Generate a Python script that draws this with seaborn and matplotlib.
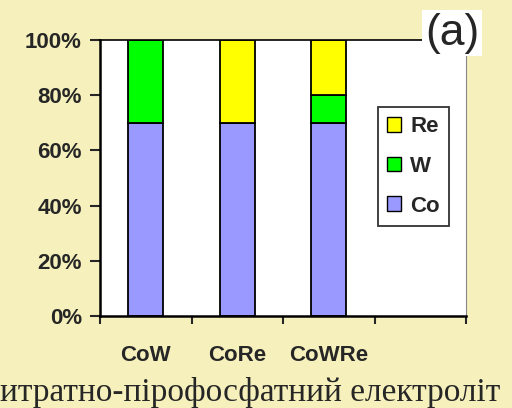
import pandas as pd
import seaborn as sns
import matplotlib.pyplot as plt
from matplotlib.patches import Patch

samples = ["CoW", "CoRe", "CoWRe"]
co = [70, 70, 70]
w = [30, 0, 10]
re = [0, 30, 20]
y_ticks = [0, 20, 40, 60, 80, 100]

colors = {"Co": "#9999FF", "W": "#00FF00", "Re": "#FFFF00"}

df = pd.DataFrame({"sample": samples, "Co": co, "W": w, "Re": re})

sns.set_style("white")
plt.rcParams["font.family"] = ["Liberation Sans", "DejaVu Sans"]

bg = "#F6F1BC"
fig = plt.figure(figsize=(5.12, 4.08), dpi=100, facecolor=bg)
ax = fig.add_axes([100 / 512, 92 / 408, 366 / 512, 276 / 408])
ax.set_facecolor("white")

bottom = [0, 0, 0]
for comp in ["Co", "W", "Re"]:
    sns.barplot(x=df["sample"], y=df[comp], bottom=bottom, color=colors[comp],
                width=0.38, edgecolor="black", linewidth=1.3, ax=ax,
                saturation=1)
    bottom = [b + v for b, v in zip(bottom, df[comp])]

ax.set_xlim(-0.5, 3.5)
ax.set_ylim(0, 100)
ax.set_yticks(y_ticks)
ax.set_yticklabels([f"{t}%" for t in y_ticks], fontsize=16, fontweight="bold")
ax.tick_params(axis="y", direction="out", length=7, width=1.5, left=True, pad=6)

# category labels sit in the middle, tick marks at the boundaries
ax.set_xticks([-0.5, 0.5, 1.5, 2.5, 3.5])
ax.set_xticklabels([])
ax.tick_params(axis="x", which="major", direction="out", length=6, width=1.5, bottom=True)
ax.set_xticks([0, 1, 2], minor=True)
ax.set_xticklabels(samples, minor=True, fontsize=16, fontweight="bold")
ax.tick_params(axis="x", which="minor", length=0, pad=21)
ax.set_xlabel("")
ax.set_ylabel("")

for side in ["left", "bottom"]:
    ax.spines[side].set_color("black")
    ax.spines[side].set_linewidth(1.8)
ax.spines["top"].set_color("black")
ax.spines["top"].set_linewidth(1.2)
ax.spines["right"].set_color("#888888")
ax.spines["right"].set_linewidth(0.8)

handles = [Patch(facecolor=colors[c], edgecolor="black", label=c) for c in ["Re", "W", "Co"]]
leg = ax.legend(handles=handles, loc="upper left", bbox_to_anchor=(278 / 366, (316 - 107) / 276),
                frameon=True, fancybox=False, edgecolor="black",
                prop={"weight": "bold", "size": 16}, handlelength=0.65, handleheight=0.65,
                labelspacing=0.85, borderpad=0.4, handletextpad=0.4, borderaxespad=0)
leg.get_frame().set_linewidth(1.3)

fig.text(452 / 512, 1 - 33 / 408, "(a)", fontsize=32, ha="center", va="center",
         bbox=dict(facecolor="white", edgecolor="none", pad=2))

fig.text(0, 1 - 401 / 408, "итратно-пірофосфатний електроліт",
         fontsize=24, ha="left", va="baseline",
         family=["Liberation Serif", "DejaVu Serif"])

fig.savefig("out.png", dpi=100, facecolor=bg)
